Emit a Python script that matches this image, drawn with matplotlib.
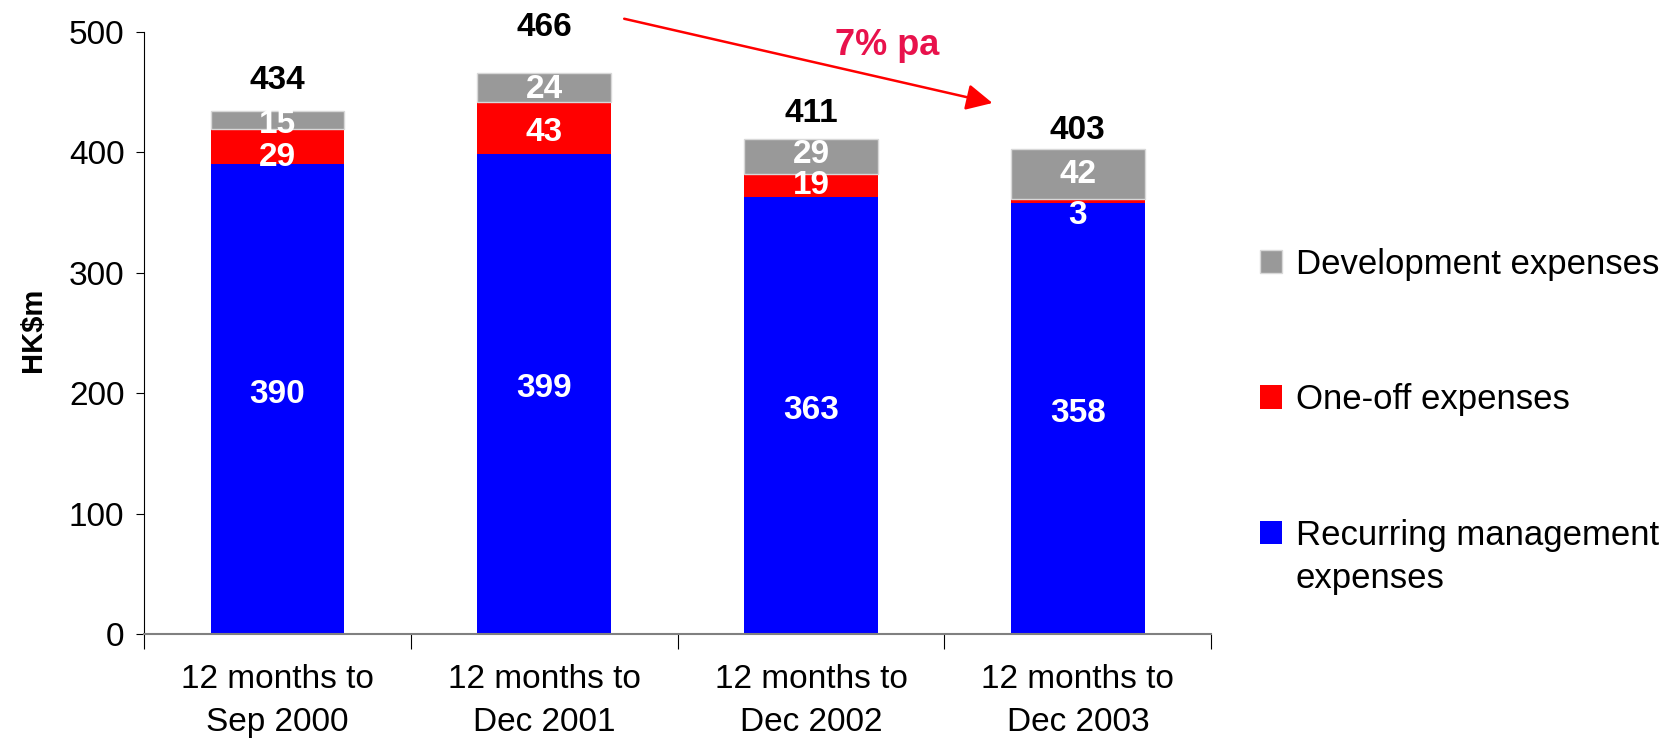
import matplotlib
matplotlib.use('Agg')
import matplotlib.pyplot as plt
import numpy as np

plt.rcParams['font.family'] = ['Liberation Sans', 'DejaVu Sans']

periods = ['12 months to\nSep 2000', '12 months to\nDec 2001',
           '12 months to\nDec 2002', '12 months to\nDec 2003']
recurring = np.array([390, 399, 363, 358])
one_off = np.array([29, 43, 19, 3])
development = np.array([15, 24, 29, 42])
totals = [434, 466, 411, 403]
legend_labels = ['Development expenses', 'One-off expenses', 'Recurring management']
legend_extra = 'expenses'
growth_text = '7% pa'

fig = plt.figure(figsize=(16.73, 7.44), dpi=100)
ax = fig.add_axes([0.086, 0.148, 0.638, 0.809])

x = np.arange(len(periods))
w = 0.5
b_rec = ax.bar(x, recurring, w, color='#0000ff')
b_one = ax.bar(x, one_off, w, bottom=recurring, color='#ff0000')
b_dev = ax.bar(x, development, w, bottom=recurring + one_off, color='#999999',
               edgecolor='#d8d8d8', linewidth=1)

# value labels (small nudges to match the original placement)
lab_kw = dict(ha='center', va='center', color='white', fontsize=24, fontweight='bold')
rec_nudge = [4, 4, 4, 4]
one_nudge = [-9, -4, 0, -12]
dev_nudge = [-3, -2, 2, 0]
for i in range(len(x)):
    ax.text(x[i], recurring[i] / 2 + rec_nudge[i], str(recurring[i]), **lab_kw)
    ax.text(x[i], recurring[i] + one_off[i] / 2 + one_nudge[i], str(one_off[i]), **lab_kw)
    base = recurring[i] + one_off[i]
    ax.text(x[i], base + development[i] / 2 + dev_nudge[i], str(development[i]), **lab_kw)

tot_nudge = [26, 38, 21, 15]
for i in range(len(x)):
    ax.text(x[i], totals[i] + tot_nudge[i], str(totals[i]), ha='center', va='center',
            fontsize=24, fontweight='bold', color='black', clip_on=False)

# growth arrow
ax.annotate('', xy=(2.68, 441), xytext=(1.30, 511), annotation_clip=False,
            arrowprops=dict(arrowstyle='-|>,head_length=0.4,head_width=0.2',
                            color='#ff0000', lw=1.8, mutation_scale=40,
                            shrinkA=0, shrinkB=0))
ax.text(2.285, 489, growth_text, ha='center', va='center', fontsize=26,
        fontweight='bold', color='#e8124c')

ax.set_xlim(-0.5, 3.5)
ax.set_ylim(0, 500)
ax.set_yticks([0, 100, 200, 300, 400, 500])
ax.tick_params(axis='y', labelsize=24, length=6, pad=8, color='black')

ax.set_xticks(np.arange(-0.5, 4, 1))
ax.set_xticklabels([''] * 5)
ax.set_xticks(x, minor=True)
ax.set_xticklabels(periods, minor=True, fontsize=24, linespacing=1.5)
ax.tick_params(axis='x', which='major', length=11, color='black')
ax.tick_params(axis='x', which='minor', length=0, pad=22)

ax.spines['top'].set_visible(False)
ax.spines['right'].set_visible(False)
ax.spines['bottom'].set_color('#808080')
ax.spines['bottom'].set_linewidth(1.5)

fig.text(0.0195, 0.557, 'HK\\$m', rotation=90, ha='center', va='center',
         fontsize=21, fontweight='bold')

fig.legend([b_dev, b_one, b_rec], legend_labels, loc='upper left',
           bbox_to_anchor=(0.753, 0.667), frameon=False, fontsize=25,
           handlelength=0.65, handleheight=0.65, handletextpad=0.4,
           labelspacing=2.95, borderpad=0, borderaxespad=0)
fig.text(0.7745, 0.222, legend_extra, ha='left', va='center', fontsize=25)

fig.savefig('out.png', dpi=100)
